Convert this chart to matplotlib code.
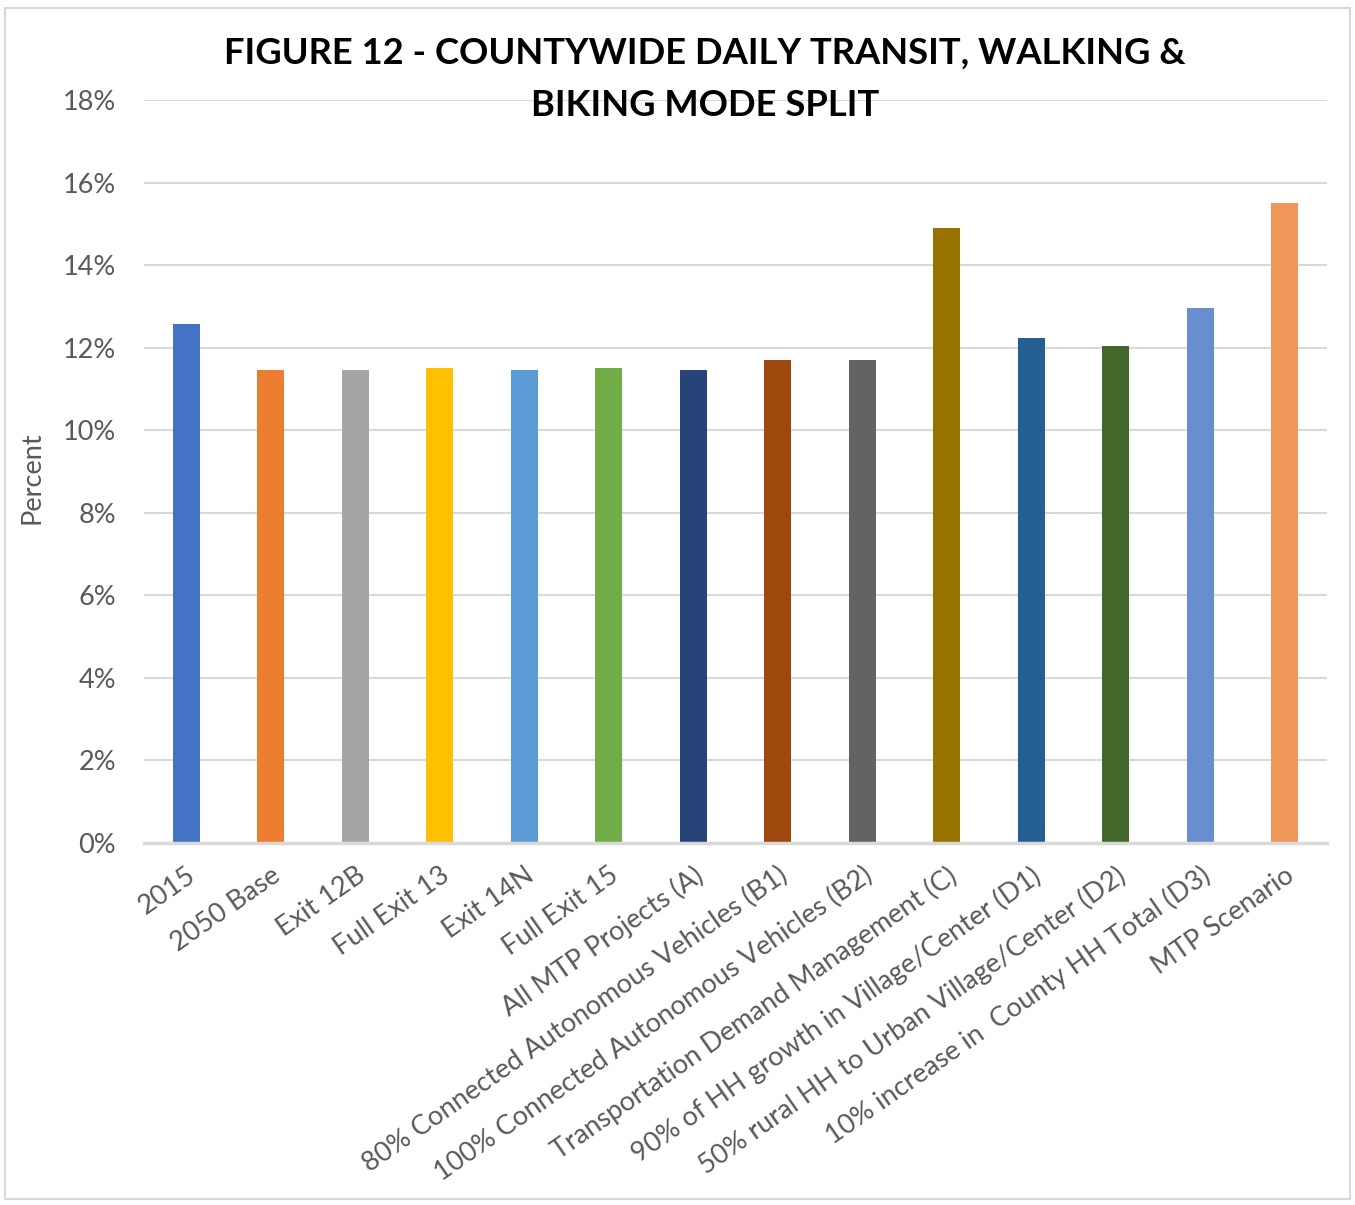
import matplotlib.pyplot as plt
from matplotlib.patches import Rectangle

# Données (part modale en %)
categories = [
    "2015", "2050 Base", "Exit 12B", "Full Exit 13", "Exit 14N", "Full Exit 15",
    "All MTP Projects (A)",
    "80% Connected Autonomous Vehicles (B1)",
    "100% Connected Autonomous Vehicles (B2)",
    "Transportation Demand Management (C)",
    "90% of HH growth in Village/Center (D1)",
    "50% rural HH to Urban Village/Center (D2)",
    "10% increase in  County HH Total (D3)",
    "MTP Scenario",
]
mode_split = [12.57, 11.45, 11.45, 11.50, 11.47, 11.50, 11.47,
              11.70, 11.70, 14.90, 12.23, 12.04, 12.96, 15.50]
bar_colors = ["#4472C4", "#ED7D31", "#A5A5A5", "#FFC000", "#5B9BD5", "#70AD47",
              "#264478", "#9E480E", "#636363", "#997300", "#255E91", "#43682B",
              "#698ED0", "#F1975A"]
y_ticks = [0, 2, 4, 6, 8, 10, 12, 14, 16, 18]

FONT = ["Lato", "DejaVu Sans"]
GREY = "#595959"

fig = plt.figure(figsize=(13.55, 12.05), dpi=100)
ax = fig.add_axes([144 / 1355, 1 - 843 / 1205, (1327 - 144) / 1355, (843 - 100) / 1205])

x = range(len(categories))
ax.bar(x, mode_split, width=0.32, color=bar_colors, zorder=3)

ax.set_xlim(-0.5, len(categories) - 0.5)
ax.set_ylim(0, 18)
ax.set_yticks(y_ticks)
ax.set_yticklabels([f"{t}%" for t in y_ticks], family=FONT, fontsize=19.5, color=GREY)
ax.set_xticks(list(x))
ax.set_xticklabels(categories, rotation=35, ha="right", va="top", rotation_mode="anchor",
                   family=FONT, fontsize=19.5, color=GREY)
ax.tick_params(axis="both", length=0)
ax.tick_params(axis="y", pad=20)
ax.tick_params(axis="x", pad=14)

ax.grid(axis="y", color="#D9D9D9", lw=1.5, zorder=0)
for s in ["top", "right", "left"]:
    ax.spines[s].set_visible(False)
ax.spines["bottom"].set_color("#D9D9D9")
ax.spines["bottom"].set_linewidth(2.5)
ax.spines["bottom"].set_zorder(4)

fig.text(32 / 1355, 1 - 478 / 1205, "Percent", rotation=90, ha="center", va="center",
         family=FONT, fontsize=19.5, color=GREY)

fig.text(705 / 1355, 1 - 79 / 1205,
         "FIGURE 12 - COUNTYWIDE DAILY TRANSIT, WALKING &\nBIKING MODE SPLIT",
         ha="center", va="center", family=FONT, fontsize=26.2, fontweight="bold",
         color="black", linespacing=1.72)

# cadre du graphique
fig.patches.append(Rectangle((5 / 1355, 1 - 1199 / 1205), 1345 / 1355, 1191 / 1205,
                             transform=fig.transFigure, fill=False,
                             edgecolor="#D9D9D9", lw=1.5))

fig.savefig("out.png", dpi=100, facecolor="white")
